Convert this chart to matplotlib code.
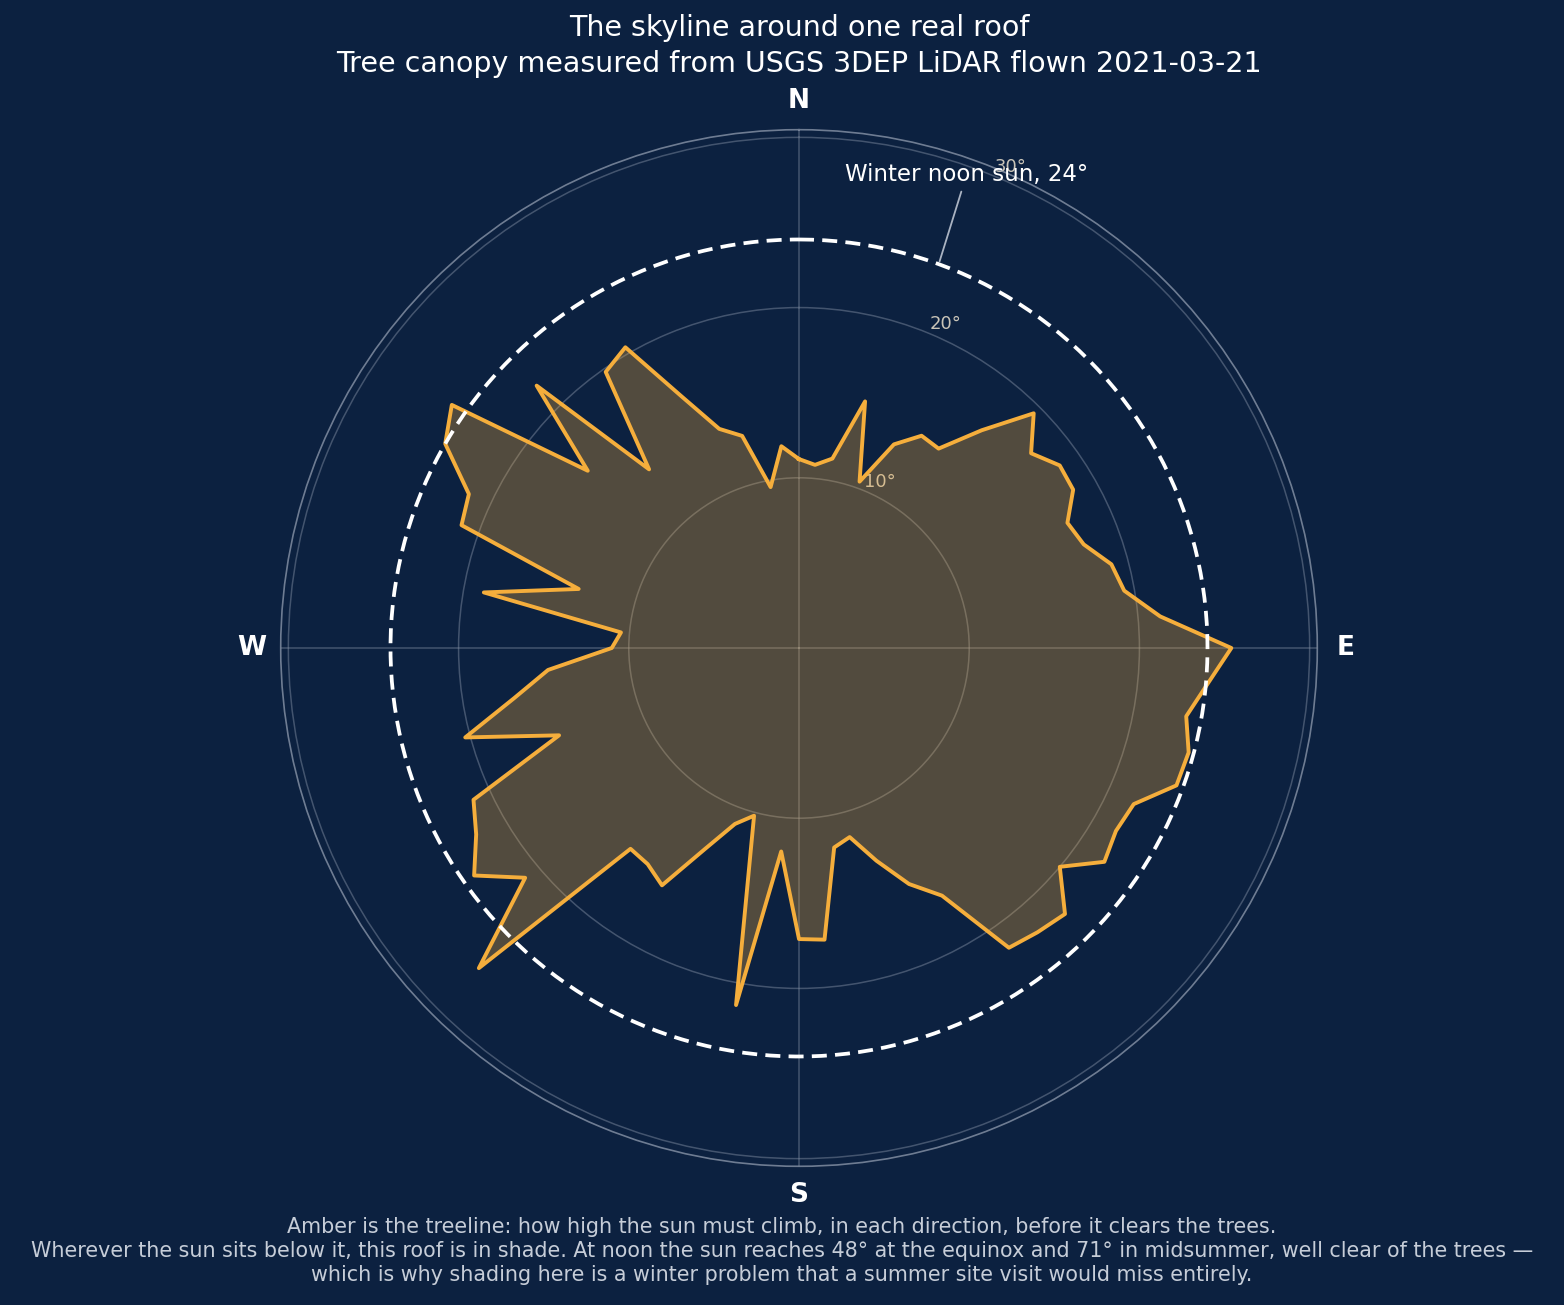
import numpy as np
import matplotlib
matplotlib.use("Agg")
import matplotlib.pyplot as plt

# Skyline elevation (deg) every 5 deg of azimuth, clockwise from north
azimuth_deg = np.arange(0, 360, 5)
treeline_deg = [
    11.1, 10.8, 11.3, 15.0, 10.4, 13.2, 14.4, 14.3, 16.7, 19.5, 17.8, 18.7,
    18.6, 17.4, 17.8, 19.0, 19.4, 21.3, 25.4, 24.1, 23.1, 23.7, 23.6, 21.7,
    21.5, 21.9, 20.0, 22.1, 21.8, 21.5, 16.8, 15.3, 13.3, 11.5, 11.9, 17.2,
    17.1, 12.0, 21.3, 10.2, 11.0, 13.0, 16.1, 15.5, 15.4, 26.6, 21.0, 23.3,
    21.9, 21.1, 15.0, 20.3, 17.0, 14.8, 11.0, 10.5, 18.8, 13.4, 21.1, 21.4,
    24.0, 24.9, 16.2, 21.8, 13.7, 19.8, 20.4, 16.3, 13.7, 12.9, 9.6, 11.9,
]
winter_noon_sun = 24
compass_labels = ["N", "E", "S", "W"]
ring_ticks = [10, 20, 30]

bg = "#0c2140"
amber = "#f5ae3c"
grid_col = "#8894a8"

fig = plt.figure(figsize=(15.64, 13.05), dpi=100, facecolor=bg)
ax = fig.add_axes([280.7 / 1564, 138.7 / 1305, 1036.6 / 1564, 1036.6 / 1305],
                  projection="polar", facecolor=bg)
ax.set_theta_zero_location("N")
ax.set_theta_direction(-1)

theta = np.deg2rad(np.append(azimuth_deg, azimuth_deg[0]))
elev = np.append(treeline_deg, treeline_deg[0])

ax.fill(theta, elev, color=amber, alpha=0.3, lw=0, zorder=2)
ax.plot(theta, elev, color=amber, lw=2.8, zorder=3)

# winter noon sun ring
ring = np.linspace(0, 2 * np.pi, 400)
ax.plot(ring, np.full_like(ring, winter_noon_sun), color="white", lw=2.7,
        linestyle=(0, (4, 2.2)), zorder=4)
ax.annotate("Winter noon sun, 24°", xy=(np.deg2rad(20), winter_noon_sun),
            xytext=(np.deg2rad(19.5), 29.5), ha="center", va="center",
            color="white", fontsize=16.5,
            arrowprops=dict(arrowstyle="-", color="#aab3c2", lw=1.3), zorder=5)

ax.set_ylim(0, 30.45)
ax.set_yticks(ring_ticks)
ax.set_yticklabels([f"{t}°" for t in ring_ticks], color="#c9c4b8", fontsize=13)
ax.set_rlabel_position(22.5)
ax.set_xticks(np.deg2rad([0, 90, 180, 270]))
ax.set_xticklabels(compass_labels, color="white", fontsize=19, fontweight="bold")
ax.tick_params(axis="x", pad=10)
ax.grid(True, color=grid_col, alpha=0.45, lw=1.1)
ax.spines["polar"].set_color(grid_col)
ax.spines["polar"].set_alpha(0.8)
ax.spines["polar"].set_linewidth(1.2)

fig.text(799 / 1564, 1 - 46 / 1305,
         "The skyline around one real roof\nTree canopy measured from USGS 3DEP LiDAR flown 2021-03-21",
         ha="center", va="center", color="white", fontsize=20.5, linespacing=1.35)

fig.text(0.5, 1 - 1251 / 1305,
         "Amber is the treeline: how high the sun must climb, in each direction, before it clears the trees.\n"
         "Wherever the sun sits below it, this roof is in shade. At noon the sun reaches 48° at the equinox and 71° in midsummer, well clear of the trees —\n"
         "which is why shading here is a winter problem that a summer site visit would miss entirely.",
         ha="center", va="center", color="#c6cdd8", fontsize=14.9, linespacing=1.27)

fig.savefig("out.png", dpi=100, facecolor=bg)
